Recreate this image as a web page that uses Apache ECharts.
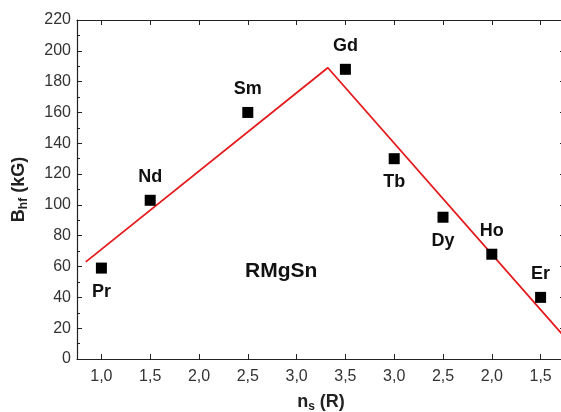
<!DOCTYPE html>
<html><head><meta charset="utf-8">
<script src="https://cdn.jsdelivr.net/npm/echarts@6/dist/echarts.min.js"></script>
<style>html,body{margin:0;padding:0;background:#fff}#c{width:561px;height:412px}</style>
</head><body><div id="c"></div>
<script>
var tickLabels = ['1,0','1,5','2,0','2,5','3,0','3,5','3,0','2,5','2,0','1,5'];
var elements = ['Pr','Nd','Sm','Gd','Tb','Dy','Ho','Er'];
var elemPos = [0,1,3,5,6,7,8,9];
var bhf = [59,103,160,188,130,92,68,40];
var labelPlace = ['bottom','top','top','top','bottom','bottom','top','top'];
var fitX = [-0.32,4.64,9.5];
var fitY = [63,189,14];

var tickPos = tickLabels.map(function(_,i){return i;});
var font = 'Liberation Sans, Arial, sans-serif';
var chart = echarts.init(document.getElementById('c'));
var pts = elemPos.map(function(x,i){
  return {value:[x,bhf[i]], label:{show:true, position:labelPlace[i], formatter:elements[i], distance:9}};
});
var lineSt = {show:true, onZero:false, lineStyle:{color:'#222', width:1.2}};
chart.setOption({
  animation:false,
  grid:{left:77, top:20, right:-4, bottom:53, outerBoundsMode:'none', containLabel:false},
  xAxis:[{
    type:'value', min:-0.5, max:9.5,
    axisLine:lineSt,
    axisTick:{show:true, inside:true, length:5, customValues:tickPos, lineStyle:{color:'#222'}},
    axisLabel:{customValues:tickPos, formatter:function(v){return tickLabels[Math.round(v)];}, fontSize:16, color:'#333', fontFamily:font, margin:10},
    splitLine:{show:false},
    name:'{b|n}{s|s}{b| (R)}', nameLocation:'middle', nameGap:33,
    nameTextStyle:{rich:{b:{fontSize:18, fontWeight:'bold', color:'#222', fontFamily:font}, s:{fontSize:12, fontWeight:'bold', color:'#222', fontFamily:font, verticalAlign:'bottom', padding:[9,0,0,0]}}}
  },{
    type:'value', position:'top', min:-0.5, max:9.5,
    axisLine:lineSt,
    axisTick:{show:true, inside:true, length:5, customValues:tickPos, lineStyle:{color:'#222'}},
    axisLabel:{show:false}, splitLine:{show:false}
  }],
  yAxis:[{
    type:'value', min:0, max:220, interval:20,
    axisLine:lineSt,
    axisTick:{show:true, inside:true, length:5, lineStyle:{color:'#222'}},
    minorTick:{show:true, splitNumber:2, length:3, lineStyle:{color:'#222'}},
    axisLabel:{fontSize:16, color:'#333', fontFamily:font, margin:6},
    splitLine:{show:false},
    name:'{b|B}{s|hf}{b| (kG)}', nameLocation:'middle', nameGap:47, nameRotate:90,
    nameTextStyle:{rich:{b:{fontSize:18, fontWeight:'bold', color:'#222', fontFamily:font}, s:{fontSize:12, fontWeight:'bold', color:'#222', fontFamily:font, verticalAlign:'bottom', padding:[9,0,0,0]}}}
  },{
    type:'value', position:'right', min:0, max:220, interval:20,
    axisLine:lineSt,
    axisTick:{show:true, inside:true, length:5, lineStyle:{color:'#222'}},
    minorTick:{show:true, splitNumber:2, length:3, lineStyle:{color:'#222'}},
    axisLabel:{show:false}, splitLine:{show:false}
  }],
  graphic:[{type:'text', left:245, top:261, style:{text:'RMgSn', font:'bold 21px '+font, fill:'#111'}}],
  series:[{
    type:'line', data:fitX.map(function(x,i){return [x,fitY[i]];}), showSymbol:false, symbol:'none',
    lineStyle:{color:'#e41a1c', width:1.8}, clip:true, z:2
  },{
    type:'scatter', data:pts, symbol:'rect', symbolSize:11,
    itemStyle:{color:'#000', opacity:1},
    label:{fontSize:18, fontWeight:'bold', color:'#111', fontFamily:font}, z:3
  }]
});
</script></body></html>
